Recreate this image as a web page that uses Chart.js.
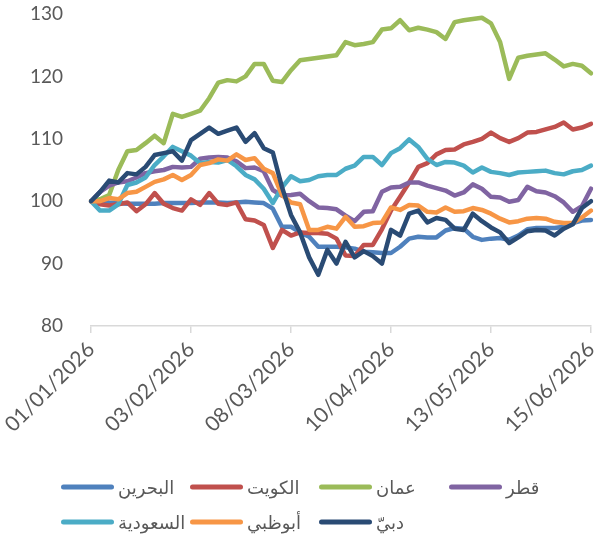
<!DOCTYPE html>
<html>
<head>
<meta charset="utf-8">
<script src="https://cdn.jsdelivr.net/npm/chart.js@4.4.1/dist/chart.umd.min.js"></script>
<style>
  html, body { margin: 0; padding: 0; background: #fff; }
  #wrap { width: 596px; height: 544px; }
</style>
</head>
<body>
<div id="wrap"><canvas id="chart" width="596" height="544"></canvas></div>
<script>
// one point every 3 days, 01/01/2026 .. 15/06/2026
const dates = [];
for (let i = 0; i < 56; i++) {
  const d = new Date(2026, 0, 1 + i * 3);
  const dd = String(d.getDate()).padStart(2, '0');
  const mm = String(d.getMonth() + 1).padStart(2, '0');
  dates.push(dd + '/' + mm + '/' + d.getFullYear());
}
const shownDates = ['01/01/2026', '03/02/2026', '08/03/2026', '10/04/2026', '13/05/2026', '15/06/2026'];

const bahrain = [100, 100, 99.8, 99.7, 99.6, 99.6, 99.6, 99.6, 99.7, 99.7,
  99.7, 99.7, 99.8, 99.8, 99.8, 99.7, 99.8, 99.9, 99.8, 99.7,
  98.8, 95.9, 95.9, 95, 94.3, 92.7, 92.7, 92.7, 92.6, 92.4,
  91.9, 91.8, 91.7, 91.7, 92.7, 94, 94.3, 94.2, 94.2, 95.3,
  95.7, 95.6, 94.3, 93.8, 94, 94.1, 93.8, 94.5, 95.5, 95.7,
  95.7, 95.7, 95.9, 96.5, 96.9, 97];
const kuwait = [100, 99.5, 99.3, 99.5, 99.8, 98.4, 99.5, 101.3, 99.6, 98.9,
  98.5, 100.3, 99.4, 101.3, 99.6, 99.4, 99.8, 97.1, 96.9, 96.2,
  92.5, 95.4, 94.5, 95, 94.9, 94.9, 94.8, 94, 91.3, 91.2,
  93, 93, 95.5, 98.5, 100.7, 103, 105.5, 106.1, 107.5, 108.2,
  108.3, 109.1, 109.5, 110, 111, 110.1, 109.5, 110.1, 111, 111.1,
  111.5, 111.9, 112.6, 111.5, 111.8, 112.4];
const oman = [100, 100.3, 101, 105, 108, 108.2, 109.3, 110.5, 109.3, 114,
  113.5, 114, 114.5, 116.5, 119, 119.4, 119.2, 120, 122, 122,
  119.3, 119.1, 121, 122.6, 122.8, 123, 123.2, 123.4, 125.5, 125,
  125.2, 125.5, 127.5, 127.7, 129, 127.4, 127.8, 127.5, 127.1, 126,
  128.7, 129, 129.2, 129.4, 128.5, 125.5, 119.6, 123, 123.3, 123.5,
  123.7, 122.7, 121.6, 122, 121.7, 120.5];
const qatar = [100, 101.5, 102.5, 103, 103.2, 103.8, 104.5, 104.8, 105, 105.5,
  105.4, 105.5, 106.8, 107, 107.1, 107, 106.4, 105.3, 105.4, 104.8,
  101.8, 100.9, 101, 101.2, 100, 99, 98.9, 98.7, 97.7, 96.8,
  98.3, 98.4, 101.5, 102.2, 102.3, 103, 103, 102.5, 102.1, 101.7,
  100.9, 101.4, 102.7, 102, 100.7, 100.6, 99.9, 100.2, 102.3, 101.6,
  101.4, 100.8, 99.8, 98.3, 99.2, 102];
const saudi = [100, 98.5, 98.5, 99.5, 102.6, 103, 103.8, 105.8, 107.2, 108.7,
  108, 107.3, 106.1, 106.3, 106.2, 106.6, 105.6, 104.2, 103.5, 102,
  99.7, 102.2, 104, 103.2, 103.4, 104, 104.2, 104.2, 105.2, 105.7,
  107.1, 107.1, 105.8, 107.7, 108.5, 109.9, 108.7, 106.8, 105.8, 106.3,
  106.2, 105.7, 104.6, 105.4, 104.7, 104.5, 104.2, 104.6, 104.7, 104.8,
  104.9, 104.5, 104.3, 104.8, 105, 105.7];
const abudhabi = [100, 100, 100.5, 100.3, 101.3, 101.5, 102.3, 103.1, 103.5, 104.2,
  103.4, 104.2, 105.8, 106.1, 106.7, 106.5, 107.5, 106.6, 106.9, 105.2,
  104.5, 101, 99.8, 99.5, 95.4, 95.4, 95.9, 95.6, 97.5, 95.9,
  96, 96.5, 96.6, 99, 98.6, 99.4, 99.3, 98.3, 98.2, 99,
  98.3, 98.4, 98.9, 98.6, 98, 97.2, 96.6, 96.8, 97.2, 97.3,
  97.2, 96.7, 96.5, 96.5, 97.4, 98.5];
const dubai = [100, 101.5, 103.3, 103, 104.5, 104.3, 105.5, 107.4, 107.7, 108,
  106.5, 109.8, 110.8, 111.8, 110.8, 111.3, 111.8, 109.5, 110.9, 108.5,
  107.8, 102.3, 97.8, 95, 91, 88.2, 92.2, 90, 93.5, 91,
  92, 91.2, 90, 95.4, 94.5, 98, 98.5, 96.6, 97.3, 97,
  95.6, 95.4, 98, 96.8, 95.8, 95, 93.3, 94.2, 95.2, 95.4,
  95.3, 94.5, 95.6, 96.3, 98.9, 100];

const names = ['البحرين', 'الكويت', 'عمان', 'قطر', 'السعودية', 'أبوظبي', 'دبيّ'];
const colors = ['#4F81BD', '#C0504D', '#9BBB59', '#8064A2', '#4BACC6', '#F79646', '#2A4B74'];
const values = [bahrain, kuwait, oman, qatar, saudi, abudhabi, dubai];

const font = "Lato, 'DejaVu Sans', sans-serif";
const textColor = '#595959';

const datasets = values.map((v, i) => ({
  label: names[i],
  data: v,
  borderColor: colors[i],
  backgroundColor: colors[i],
  borderWidth: 4.5,
  pointRadius: 0,
  tension: 0,
  borderJoinStyle: 'round',
  borderCapStyle: 'round',
  order: values.length - i // later series drawn on top
}));

// legend laid out on a fixed 4-column grid like the Excel original
const legendCols = [61, 190, 319, 449];
const legendRows = [487, 522];
const gridLegend = {
  id: 'gridLegend',
  afterDraw(chart) {
    const ctx = chart.ctx;
    ctx.save();
    ctx.font = '18px ' + font;
    ctx.textAlign = 'left';
    ctx.textBaseline = 'middle';
    ctx.lineCap = 'round';
    chart.data.datasets.forEach((ds, i) => {
      const x = legendCols[i % 4];
      const y = legendRows[Math.floor(i / 4)];
      ctx.strokeStyle = ds.borderColor;
      ctx.lineWidth = 5;
      ctx.beginPath();
      ctx.moveTo(x + 2.5, y);
      ctx.lineTo(x + 50.5, y);
      ctx.stroke();
      ctx.fillStyle = textColor;
      ctx.fillText(ds.label, x + 57, y + 1);
    });
    ctx.restore();
  }
};

new Chart(document.getElementById('chart'), {
  type: 'line',
  data: { labels: dates, datasets },
  plugins: [gridLegend],
  options: {
    responsive: false,
    animation: false,
    layout: { padding: { top: 14, left: 28, right: 5, bottom: 83 } },
    plugins: {
      legend: { display: false },
      tooltip: { enabled: false }
    },
    scales: {
      x: {
        afterFit: (scale) => {
          scale.height = 135;
          scale.paddingLeft = 0;
          scale.paddingRight = 0;
        },
        grid: {
          drawOnChartArea: false,
          tickLength: 7,
          tickColor: (ctx) => shownDates.includes(dates[ctx.index]) ? '#D9D9D9' : 'rgba(0,0,0,0)',
          lineWidth: 1.5
        },
        border: { color: '#D9D9D9', width: 1.5 },
        ticks: {
          autoSkip: false,
          minRotation: 45,
          maxRotation: 45,
          padding: 4,
          color: textColor,
          font: { family: font, size: 21 },
          callback: function (value, index) {
            return shownDates.includes(dates[index]) ? dates[index] : '';
          }
        }
      },
      y: {
        min: 80,
        max: 130,
        afterFit: (scale) => {
          scale.width = 63;
          scale.paddingTop = 0;
          scale.paddingBottom = 0;
        },
        grid: { display: false },
        border: { display: false },
        ticks: {
          stepSize: 10,
          padding: 20,
          color: textColor,
          font: { family: font, size: 19 }
        }
      }
    }
  }
});
</script>
</body>
</html>
